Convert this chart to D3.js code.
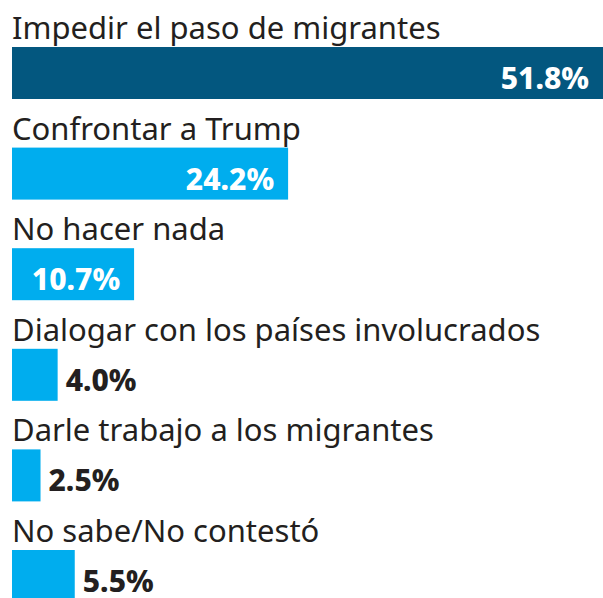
<!DOCTYPE html>
<html>
<head>
<meta charset="utf-8">
<script src="https://cdn.jsdelivr.net/npm/d3@7"></script>
<style>
  body { margin: 0; background: #fff; }
  svg { display: block; }
</style>
</head>
<body>
<div id="chart"></div>
<script>
var categories = ["Impedir el paso de migrantes", "Confrontar a Trump", "No hacer nada",
  "Dialogar con los países involucrados", "Darle trabajo a los migrantes", "No sabe/No contestó"];
var values = [51.8, 24.2, 10.7, 4.0, 2.5, 5.5];
var valueLabels = ["51.8%", "24.2%", "10.7%", "4.0%", "2.5%", "5.5%"];

var width = 603, height = 598;

var svg = d3.select("#chart")
  .append("svg")
    .attr("width", width)
    .attr("height", height);

var x = d3.scaleLinear()
  .domain([0, 51.8])
  .range([12, 603]);

// one row per answer: label above, bar below
var y = d3.scaleBand()
  .domain(categories)
  .range([0, 603.6]);

var barTop = 47, barH = 52;

var row = svg.selectAll("g.row")
  .data(categories)
  .enter().append("g")
    .attr("class", "row")
    .attr("transform", function(d) { return "translate(0," + y(d) + ")"; });

row.append("text")
  .attr("x", 12)
  .attr("y", 39)
  .style("font-family", "Noto Sans")
  .style("font-size", "31px")
  .style("fill", "#231f20")
  .text(function(d) { return d; });

row.append("rect")
  .attr("x", x(0))
  .attr("y", barTop)
  .attr("width", function(d, i) { return x(values[i]) - x(0); })
  .attr("height", barH)
  .style("fill", function(d, i) { return i == 0 ? "#03577f" : "#00adee"; });

row.append("text")
  .attr("x", function(d, i) {
    return values[i] > 8 ? x(values[i]) - 14 : x(values[i]) + 8;
  })
  .attr("y", barTop + 42)
  .attr("text-anchor", function(d, i) { return values[i] > 8 ? "end" : "start"; })
  .style("font-family", "Noto Sans")
  .style("font-weight", "800")
  .style("font-size", "30px")
  .style("fill", function(d, i) { return values[i] > 8 ? "#fff" : "#231f20"; })
  .text(function(d, i) { return valueLabels[i]; });
</script>
</body>
</html>
